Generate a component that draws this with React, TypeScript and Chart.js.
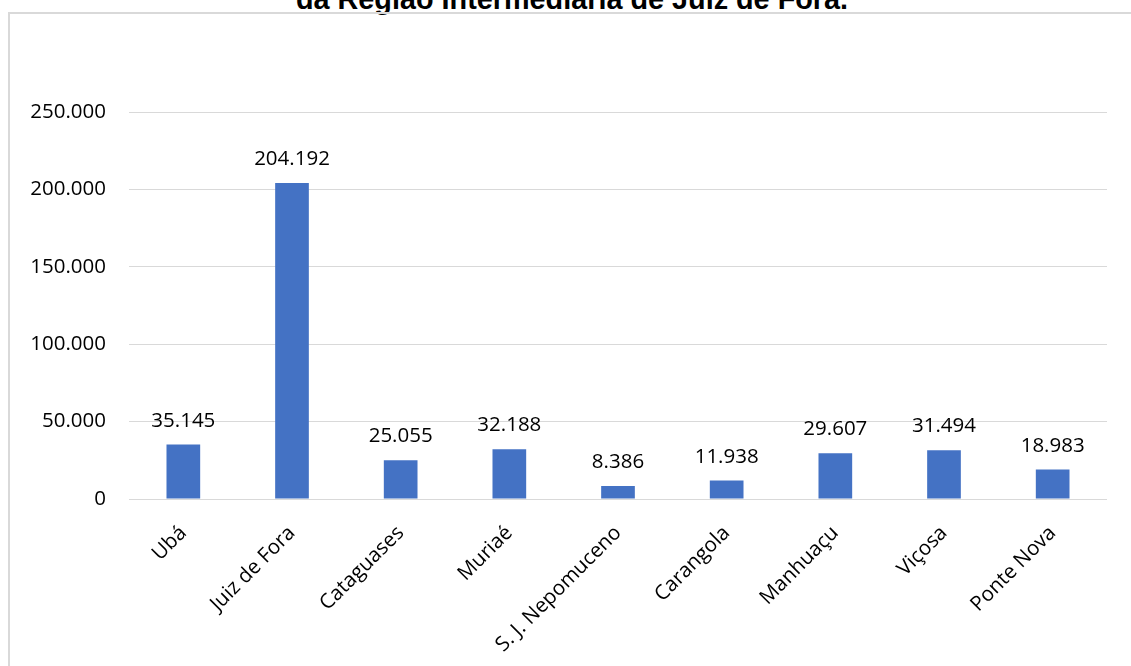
import React, { useEffect, useRef } from "react";
import { Chart, registerables } from "chart.js";

Chart.register(...registerables);

const titleText = "da Região Intermediária de Juiz de Fora.";
const categories = [
  "Ubá",
  "Juiz de Fora",
  "Cataguases",
  "Muriaé",
  "S. J. Nepomuceno",
  "Carangola",
  "Manhuaçu",
  "Viçosa",
  "Ponte Nova",
];
const values = [35145, 204192, 25055, 32188, 8386, 11938, 29607, 31494, 18983];
const yMax = 250000;
const yStep = 50000;

const fmt = (v: number) => String(Math.round(v)).replace(/\B(?=(\d{3})+(?!\d))/g, ".");

const FONT = '"Open Sans", sans-serif';
const TEXT = "#000000";

const valueLabels = {
  id: "valueLabels",
  afterDatasetsDraw(chart: any) {
    const ctx = chart.ctx;
    const meta = chart.getDatasetMeta(0);
    ctx.save();
    ctx.font = `20.5px ${FONT}`;
    ctx.fillStyle = TEXT;
    ctx.textAlign = "center";
    ctx.textBaseline = "alphabetic";
    meta.data.forEach((el: any, i: number) => {
      ctx.fillText(fmt(values[i]), el.x, el.y - 18);
    });
    ctx.restore();
  },
};

export default function App() {
  const ref = useRef<HTMLCanvasElement | null>(null);
  useEffect(() => {
    if (!ref.current) return;
    const chart = new Chart(ref.current, {
      type: "bar",
      data: {
        labels: categories,
        datasets: [
          {
            data: values,
            backgroundColor: "#4472C4",
            barPercentage: 0.31,
            categoryPercentage: 1,
          },
        ],
      },
      options: {
        animation: false,
        responsive: false,
        maintainAspectRatio: false,
        layout: { padding: { top: 112, right: 24, left: 0, bottom: 0 } },
        plugins: {
          legend: { display: false },
          tooltip: { enabled: false },
          title: { display: false },
        },
        scales: {
          x: {
            grid: { display: false },
            border: { display: false },
            ticks: {
              color: TEXT,
              font: { family: FONT, size: 20.5 },
              minRotation: 45,
              maxRotation: 45,
              padding: 14,
              autoSkip: false,
            },
            afterFit: (s: any) => {
              s.height = 167;
            },
          },
          y: {
            min: 0,
            max: yMax,
            grid: { color: "#d9d9d9", lineWidth: 1, drawTicks: false },
            border: { display: false },
            ticks: {
              stepSize: yStep,
              color: TEXT,
              font: { family: FONT, size: 20.5 },
              padding: 23,
              callback: (v: any) => fmt(Number(v)),
            },
            afterFit: (s: any) => {
              s.width = 129;
            },
          },
        },
      },
      plugins: [valueLabels],
    });
    return () => chart.destroy();
  }, []);

  return (
    <div
      style={{
        position: "absolute",
        left: 0,
        top: 0,
        width: 1131,
        height: 666,
        overflow: "hidden",
        background: "#fff",
      }}
    >
      <div
        style={{
          position: "absolute",
          left: 0,
          top: -15,
          width: 1144,
          textAlign: "center",
          fontFamily: '"Liberation Sans", Arial, sans-serif',
          fontWeight: "bold",
          fontSize: 28.8,
          lineHeight: "28px",
          color: "#000",
          whiteSpace: "nowrap",
        }}
      >
        {titleText}
      </div>
      <div
        style={{
          position: "absolute",
          left: 8,
          top: 12,
          width: 1200,
          height: 800,
          border: "2px solid #d9d9d9",
        }}
      />
      <canvas
        ref={ref}
        width={1131}
        height={666}
        style={{ position: "absolute", left: 0, top: 0, width: 1131, height: 666 }}
      />
    </div>
  );
}
